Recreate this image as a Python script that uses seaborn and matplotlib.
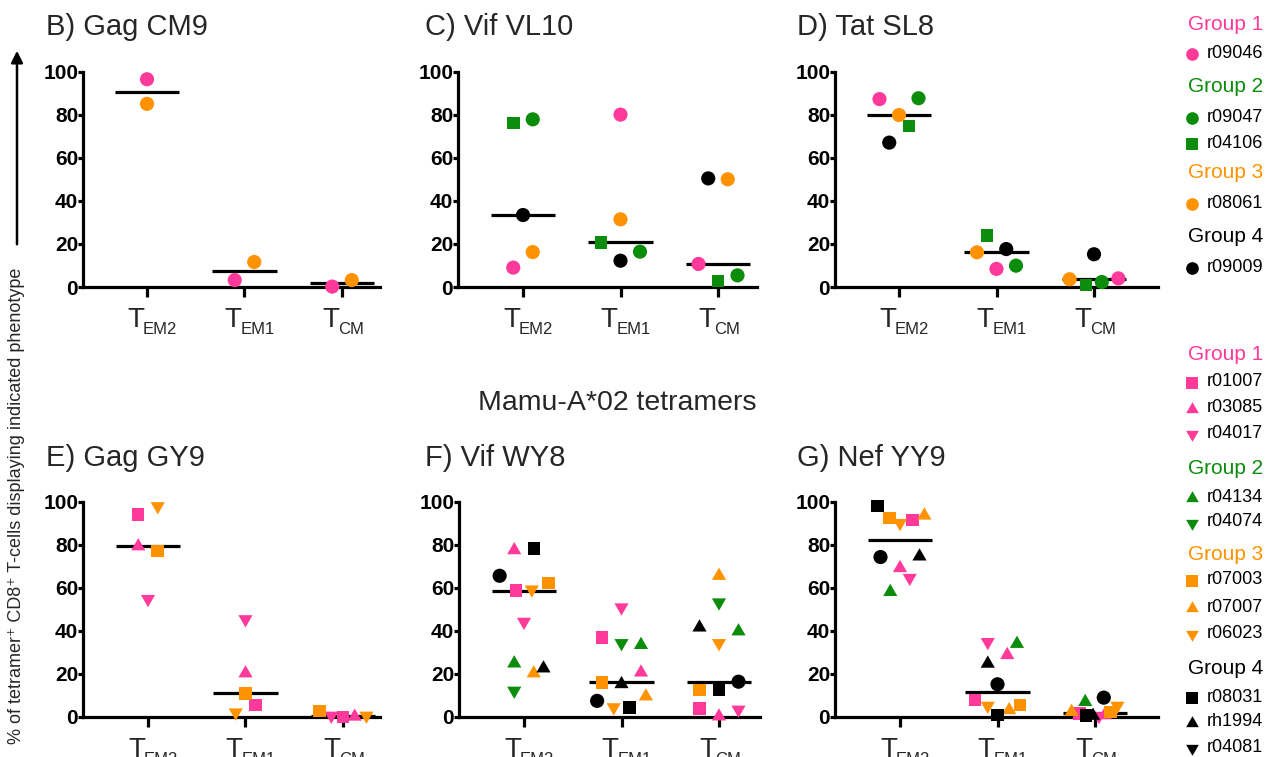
import numpy as np
import pandas as pd
import matplotlib
matplotlib.use("Agg")
import matplotlib.pyplot as plt
import matplotlib.patches as mpatches
import seaborn as sns

sns.set_theme(style="white")
plt.rcParams['font.family'] = ['Liberation Sans', 'DejaVu Sans']

# ---------------- data ----------------
phenotypes = ["TEM2", "TEM1", "TCM"]
tick_main = ["T", "T", "T"]
tick_sub = ["EM2", "EM1", "CM"]
y_ticks = [0, 20, 40, 60, 80, 100]

# values per subject: [TEM2, TEM1, TCM]
gag_cm9 = {
    "r09046": [96.4, 3.2, 0.2],
    "r08061": [85.0, 11.6, 3.2],
}
vif_vl10 = {
    "r09046": [9.0, 80.0, 10.7],
    "r09047": [77.8, 16.4, 5.4],
    "r04106": [76.2, 20.7, 2.9],
    "r08061": [16.2, 31.4, 50.0],
    "r09009": [33.4, 12.2, 50.4],
}
tat_sl8 = {
    "r09046": [87.2, 8.4, 4.0],
    "r09047": [87.6, 9.9, 2.3],
    "r04106": [74.7, 24.0, 0.9],
    "r08061": [79.8, 16.1, 3.6],
    "r09009": [67.0, 17.6, 15.2],
}
gag_gy9 = {
    "r01007": [94.0, 5.4, 0.0],
    "r03085": [79.2, 20.2, 0.1],
    "r04017": [54.7, 45.3, 0.5],
    "r07003": [77.1, 10.9, 2.6],
    "r06023": [97.8, 2.0, 0.5],
}
vif_wy8 = {
    "r01007": [58.6, 36.9, 3.9],
    "r03085": [77.4, 20.6, 0.2],
    "r04017": [44.1, 50.8, 3.3],
    "r04134": [24.8, 33.4, 39.7],
    "r04074": [12.1, 34.2, 53.1],
    "r07003": [62.1, 16.0, 12.5],
    "r07007": [20.2, 9.5, 65.5],
    "r06023": [59.1, 4.4, 34.2],
    "r08031": [78.1, 4.4, 12.4],
    "rh1994": [22.5, 15.2, 41.5],
    "r09009": [65.5, 7.4, 16.3],
}
nef_yy9 = {
    "r01007": [91.4, 7.9, 1.5],
    "r03085": [69.1, 28.7, 0.8],
    "r04017": [64.5, 34.7, 0.3],
    "r04134": [58.0, 33.9, 6.9],
    "r07003": [92.3, 5.4, 2.3],
    "r07007": [93.5, 3.1, 2.3],
    "r06023": [90.0, 5.1, 5.1],
    "r08031": [98.0, 0.9, 0.5],
    "rh1994": [74.5, 24.7, 0.5],
    "r09009": [74.2, 15.1, 8.9],
}

# legend contents
legend_top = [("Group 1", ["r09046"]), ("Group 2", ["r09047", "r04106"]),
              ("Group 3", ["r08061"]), ("Group 4", ["r09009"])]
legend_bottom = [("Group 1", ["r01007", "r03085", "r04017"]),
                 ("Group 2", ["r04134", "r04074"]),
                 ("Group 3", ["r07003", "r07007", "r06023"]),
                 ("Group 4", ["r08031", "rh1994", "r04081"])]

# ---------------- layout / style ----------------
# horizontal scatter slots (category units) for each subject, per panel
slots = {
    "B": {"r09046": [0, -0.1, -0.1], "r08061": [0, 0.1, 0.1]},
    "C": {"r09046": [-0.1, 0, -0.2], "r09047": [0.1, 0.2, 0.2], "r04106": [-0.1, -0.2, 0],
          "r08061": [0.1, 0, 0.1], "r09009": [0, 0, -0.1]},
    "D": {"r09046": [-0.2, 0, 0.25], "r09047": [0.2, 0.2, 0.08], "r04106": [0.1, -0.1, -0.08],
          "r08061": [0, -0.2, -0.25], "r09009": [-0.1, 0.1, 0]},
    "E": {"r01007": [-0.1, 0.1, 0], "r03085": [-0.1, 0, 0.12], "r04017": [0, 0, -0.12],
          "r07003": [0.1, 0, -0.24], "r06023": [0.1, -0.1, 0.24]},
    "F": {"r01007": [-0.08, -0.2, -0.2], "r03085": [-0.1, 0.2, 0], "r04017": [0, 0, 0.2],
          "r04134": [-0.1, 0.2, 0.2], "r04074": [-0.1, 0, 0], "r07003": [0.25, -0.2, -0.2],
          "r07007": [0.1, 0.25, 0], "r06023": [0.08, -0.08, 0], "r08031": [0.1, 0.08, 0],
          "rh1994": [0.2, 0, -0.2], "r09009": [-0.25, -0.25, 0.2]},
    "G": {"r01007": [0.13, -0.23, -0.16], "r03085": [0, 0.1, 0.1], "r04017": [0.1, -0.1, 0.04],
          "r04134": [-0.1, 0.2, -0.1], "r07003": [-0.11, 0.23, 0.16], "r07007": [0.25, 0.12, -0.24],
          "r06023": [0, -0.1, 0.23], "r08031": [-0.23, 0, -0.09], "rh1994": [0.2, -0.1, -0.02],
          "r09009": [-0.2, 0, 0.09]},
}

PINK, GREEN, ORANGE, BLACK = "#FF3A9A", "#0B8C0B", "#FF9200", "#000000"
group_colors = {"Group 1": PINK, "Group 2": GREEN, "Group 3": ORANGE, "Group 4": BLACK}
UP, DOWN = (3, 0, 0), (3, 0, 180)
style = {
    "r09046": (PINK, "o"), "r09047": (GREEN, "o"), "r04106": (GREEN, "s"),
    "r08061": (ORANGE, "o"), "r09009": (BLACK, "o"),
    "r01007": (PINK, "s"), "r03085": (PINK, UP), "r04017": (PINK, DOWN),
    "r04134": (GREEN, UP), "r04074": (GREEN, DOWN),
    "r07003": (ORANGE, "s"), "r07007": (ORANGE, UP), "r06023": (ORANGE, DOWN),
    "r08031": (BLACK, "s"), "rh1994": (BLACK, UP), "r04081": (BLACK, DOWN),
}
marker_size = {"o": 10.2 ** 2, "s": 9.0 ** 2, UP: 11.8 ** 2, DOWN: 11.8 ** 2}

W, H = 1278, 757
fig = plt.figure(figsize=(W / 100, H / 100), dpi=100)

SPACING = 97.5  # px per category
panels = [
    # key, title, data, left px, cat0 px, right px, top px, bottom px, title pos
    ("B", "B) Gag CM9", gag_cm9, 83, 147, 380, 71.5, 287, (46, 35)),
    ("C", "C) Vif VL10", vif_vl10, 458, 523, 757, 71.5, 287, (425, 35)),
    ("D", "D) Tat SL8", tat_sl8, 835, 899, 1158, 71.5, 287, (797, 35)),
    ("E", "E) Gag GY9", gag_gy9, 83, 148, 380, 501.5, 716.8, (46, 466)),
    ("F", "F) Vif WY8", vif_wy8, 459, 524, 760, 501.5, 716.8, (425, 466)),
    ("G", "G) Nef YY9", nef_yy9, 835, 900, 1158, 501.5, 716.8, (797, 466)),
]

LW = 2.3
for key, title, data, lpx, c0, rpx, tpx, bpx, tpos in panels:
    ax = fig.add_axes([lpx / W, (H - bpx) / H, (rpx - lpx) / W, (bpx - tpx) / H])
    xl = -(c0 - lpx) / SPACING
    ax.set_xlim(xl, xl + (rpx - lpx) / SPACING)
    ax.set_ylim(0, 100)

    df = pd.DataFrame(data, index=phenotypes)
    med = df.median(axis=1).values
    ax.hlines(med, np.arange(3) - 0.33, np.arange(3) + 0.33, color="black",
              lw=LW, zorder=2)

    for subj, vals in data.items():
        color, mk = style[subj]
        xs = np.arange(3) + np.array(slots[key][subj])
        sns.scatterplot(x=xs, y=vals, ax=ax, color=color, marker=mk,
                        s=marker_size[mk], linewidth=0, edgecolor="none",
                        clip_on=False, zorder=3, legend=False)

    ax.set_xticks(range(3))
    ax.set_xticklabels(["", "", ""])
    xform = ax.get_xaxis_transform()
    for i, (tm, ts) in enumerate(zip(tick_main, tick_sub)):
        ax.annotate(tm, xy=(i, 0), xycoords=xform, xytext=(-3, -40),
                    textcoords="offset pixels", fontsize=20, ha="right",
                    va="baseline", annotation_clip=False)
        ax.annotate(ts, xy=(i, 0), xycoords=xform, xytext=(-4, -47),
                    textcoords="offset pixels", fontsize=12, ha="left",
                    va="baseline", annotation_clip=False)
    ax.set_yticks(y_ticks)
    ax.set_yticklabels([str(v) for v in y_ticks], fontsize=15, fontweight="bold")
    ax.set_xlabel("")
    ax.set_ylabel("")
    for s in ["top", "right"]:
        ax.spines[s].set_visible(False)
    for s in ["left", "bottom"]:
        ax.spines[s].set_linewidth(LW)
        ax.spines[s].set_color("black")
    ax.tick_params(axis="x", length=7, width=LW, pad=2, colors="black", bottom=True)
    ax.tick_params(axis="y", length=3.5, width=LW, pad=0, colors="black", left=True)
    ax.grid(False)
    ax.patch.set_alpha(0)
    fig.text(tpos[0] / W, 1 - tpos[1] / H, title, fontsize=21, ha="left", va="baseline")

fig.text(617 / W, 1 - 403 / H, "Mamu-A*02 tetramers", fontsize=20.5, ha="center", va="center")

# shared y label with arrow
fig.text(17 / W, 1 - 506 / H, "% of tetramer\u207a CD8\u207a T-cells displaying indicated phenotype",
         rotation=90, fontsize=13, ha="center", va="center")
fig.add_artist(mpatches.FancyArrowPatch(
    (17 / W, 1 - 247 / H), (17 / W, 1 - 48 / H), transform=fig.transFigure,
    arrowstyle="-|>,head_length=7,head_width=3.5", lw=1.8, color="black"))

# custom legends
lax = fig.add_axes([0, 0, 1, 1])
lax.set_xlim(0, W)
lax.set_ylim(H, 0)
lax.axis("off")
lax.patch.set_alpha(0)


def draw_legend(groups, ys):
    it = iter(ys)
    for grp, members in groups:
        y = next(it)
        lax.text(1188, y, grp, color=group_colors[grp], fontsize=15, ha="left", va="center")
        for m in members:
            y = next(it)
            color, mk = style[m]
            lax.scatter([1192], [y + 1], color=color, marker=mk, s=marker_size[mk] * 0.8,
                        linewidths=0, clip_on=False)
            lax.text(1207, y, m, color="black", fontsize=13, ha="left", va="center")


draw_legend(legend_top, [25, 53, 87, 117, 143, 173, 203, 237, 267])
draw_legend(legend_bottom, [355, 382, 408, 433, 468, 497, 522, 555, 580, 607, 633,
                            668, 697, 722, 747])

fig.savefig("out.png", dpi=100)
